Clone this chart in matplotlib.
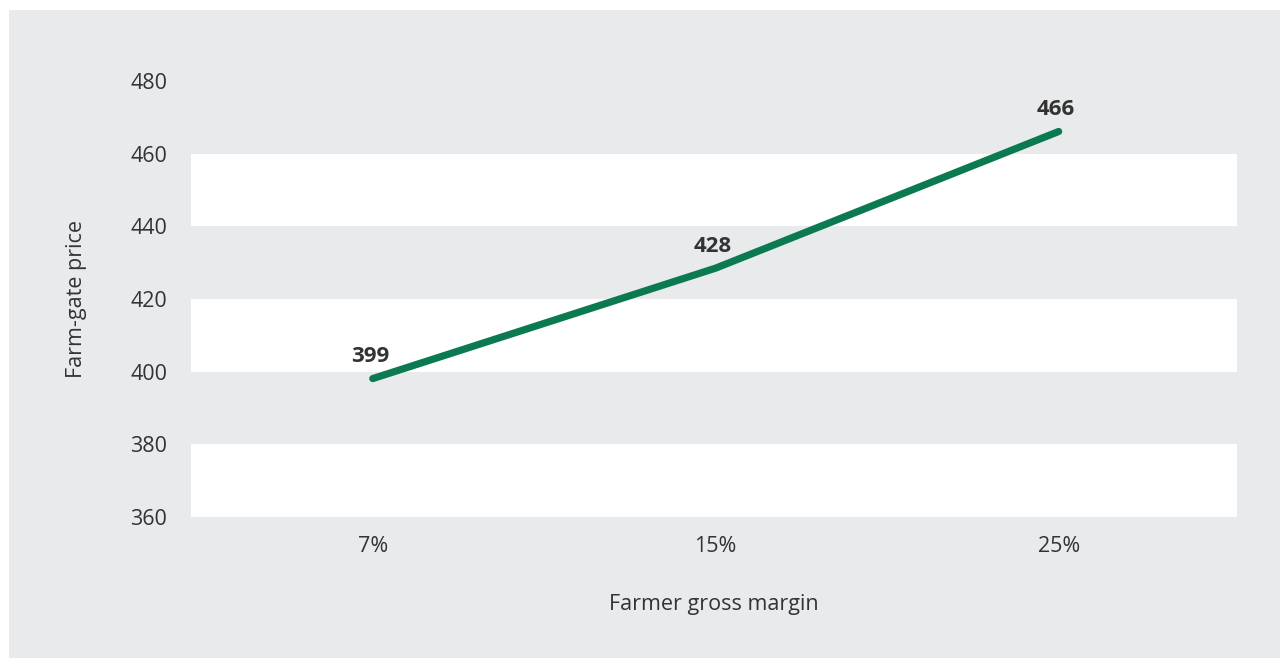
import matplotlib.pyplot as plt
from matplotlib.patches import Rectangle

# farmer gross margin vs farm-gate price
margins = ['7%', '15%', '25%']
prices = [398.1, 428.5, 466.1]
price_labels = ['399', '428', '466']
yticks = [360, 380, 400, 420, 440, 460, 480]

plt.rcParams['font.family'] = ['Open Sans', 'DejaVu Sans']

panel_gray = '#e9eaec'
text_col = '#333333'
green = '#0b7a50'

fig = plt.figure(figsize=(12.84, 6.59), dpi=100)
fig.patches.append(Rectangle((9/1284, 1/659), 1271/1284, 648/659,
                             transform=fig.transFigure, facecolor=panel_gray,
                             edgecolor='none', zorder=-10))

ax = fig.add_axes([191/1284, 142/659, 1046/1284, 436/659])
ax.set_facecolor(panel_gray)

# alternating white bands
for lo in yticks[:-1:2]:
    ax.axhspan(lo, lo + 20, color='white', zorder=0, lw=0)

x = range(len(margins))
ax.plot(x, prices, color=green, linewidth=5.2, solid_capstyle='round',
        solid_joinstyle='round', zorder=3)

for i, (p, lab) in enumerate(zip(prices, price_labels)):
    ax.annotate(lab, (i, p), xytext=(-2, 8), textcoords='offset points',
                ha='center', va='bottom', fontsize=16, fontweight='bold',
                color=text_col)

ax.set_xlim(-0.53, 2.52)
ax.set_ylim(360, 480)
ax.set_yticks(yticks)
ax.set_xticks(list(x))
ax.set_xticklabels(margins)
ax.tick_params(axis='both', length=0, labelsize=15.5, labelcolor=text_col)
ax.tick_params(axis='y', pad=17)
ax.tick_params(axis='x', pad=14)
for s in ax.spines.values():
    s.set_visible(False)

ax.set_xlabel('Farmer gross margin', fontsize=15.5, color=text_col, labelpad=26)
ax.set_ylabel('Farm-gate price', fontsize=15.5, color=text_col, labelpad=31)

plt.savefig('out.png', dpi=100)
